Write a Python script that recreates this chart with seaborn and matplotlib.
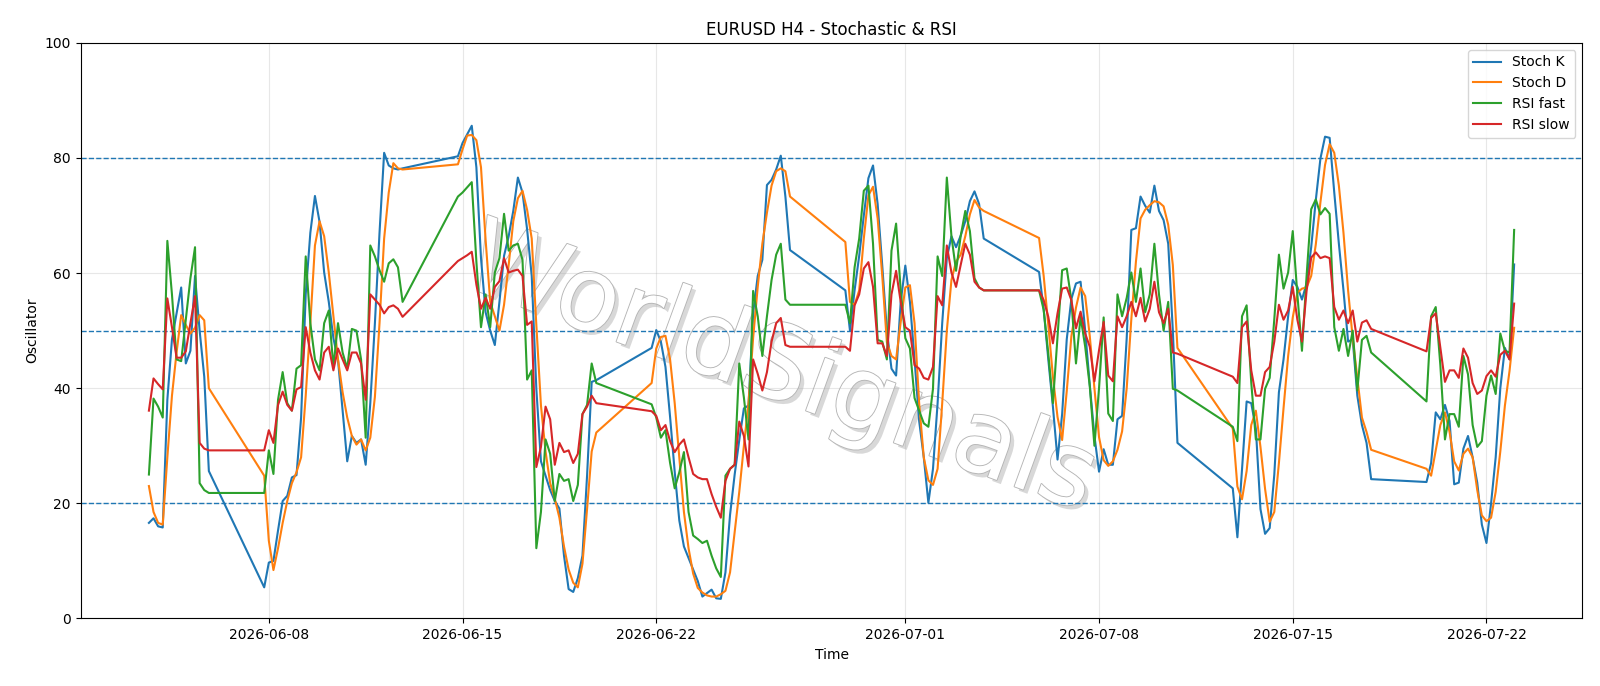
import numpy as np
import pandas as pd
import matplotlib
matplotlib.use("Agg")
import matplotlib.pyplot as plt
import matplotlib.patheffects as pe
import seaborn as sns

# H4 bars: weekdays plus the Sunday 20:00 open bar
bars = pd.date_range("2026-06-03 16:00", "2026-07-23 00:00", freq="4h")
bars = bars[(bars.dayofweek < 5) | ((bars.dayofweek == 6) & (bars.hour == 20))]

stoch_k = [
    16.6, 17.4, 16.0, 15.8, 38.0, 48.5, 53.0, 57.5, 44.3, 46.5, 59.5, 50.0, 42.0, 25.6,
    5.4, 9.7, 10.0, 15.3, 20.4, 21.3, 24.5, 24.9, 34.9, 56.3, 67.0, 73.4, 68.9, 60.1, 55.0, 48.7,
    44.9, 36.1, 27.3, 31.7, 30.5, 31.1, 26.7, 37.4, 51.3, 67.0, 80.9, 78.7, 78.2, 78.0, 78.2,
    80.3, 82.6, 84.1, 85.6, 78.4, 62.6, 53.2, 50.0, 47.5, 55.0, 63.0, 66.4, 70.8, 76.6, 74.0, 67.6,
    59.5, 39.9, 27.3, 24.8, 22.3, 20.4, 19.1, 10.9, 5.1, 4.6, 7.0, 10.9, 24.8, 41.1, 41.4,
    47.0, 50.1, 48.1, 43.7, 35.0, 25.5, 17.0, 12.5, 10.5, 8.5, 6.5, 3.8, 4.4, 5.0, 3.5, 3.4,
    8.0, 18.0, 25.0, 31.0, 36.5, 37.0, 53.0, 59.5, 62.3, 75.3, 76.2, 78.0, 80.4, 73.3, 64.0,
    57.0, 50.0, 57.0, 63.0, 70.0, 76.5, 78.7, 72.0, 61.3, 50.0, 43.4, 42.2, 55.0, 61.3, 55.0, 45.0,
    34.3, 28.0, 20.1, 26.0, 37.4, 51.3, 62.6, 66.4, 64.5, 66.5, 69.0, 72.5, 74.2, 72.0, 66.0,
    60.2, 53.7, 45.0, 36.8, 27.6, 35.5, 48.5, 55.5, 58.2, 58.5, 50.0, 40.5, 31.7, 25.5, 29.4, 26.7,
    26.7, 34.6, 35.2, 48.7, 67.5, 67.8, 73.3, 71.7, 70.5, 75.2, 70.8, 69.2, 65.1, 50.0, 30.5,
    22.6, 14.1, 26.0, 37.7, 37.4, 33.0, 19.0, 14.7, 15.7, 25.0, 39.3, 45.0, 52.5, 58.8, 57.6, 55.4,
    58.2, 64.5, 72.7, 79.9, 83.7, 83.5, 74.0, 65.1, 57.0, 48.1, 48.5, 38.7, 33.6, 30.5, 24.2,
    23.7, 27.0, 35.8, 34.6, 37.1, 34.3, 23.3, 23.6, 29.5, 31.7, 28.0, 23.6, 16.3, 13.1, 20.0, 28.0,
    40.0, 47.0, 45.0, 61.5,
]

stoch_d = [
    23.0, 18.5, 16.6, 16.3, 28.0, 38.7, 46.2, 52.7, 51.0, 49.5, 50.5, 52.7, 51.8, 40.0,
    24.8, 13.5, 8.4, 12.2, 16.6, 20.4, 23.5, 25.4, 28.0, 38.7, 51.3, 64.8, 69.0, 66.4, 60.1, 52.5,
    45.0, 39.3, 34.9, 31.7, 30.2, 31.1, 29.2, 31.4, 38.5, 51.3, 66.0, 74.0, 79.1, 78.2, 78.0,
    78.9, 81.5, 83.9, 84.0, 83.1, 78.4, 65.8, 55.0, 52.5, 50.0, 54.5, 61.4, 69.0, 73.0, 74.3, 71.0,
    66.0, 51.0, 37.0, 29.0, 23.5, 20.8, 17.5, 12.5, 8.5, 6.2, 5.4, 9.5, 19.0, 29.0, 32.3,
    40.9, 46.9, 48.9, 49.1, 45.0, 37.4, 28.0, 18.5, 12.2, 7.8, 5.3, 4.5, 4.0, 3.8, 3.8, 4.2,
    4.8, 8.0, 15.0, 22.0, 30.0, 37.4, 48.7, 57.6, 65.1, 70.5, 75.2, 77.7, 78.2, 77.7, 73.3,
    65.4, 55.0, 54.5, 57.0, 66.0, 73.5, 75.0, 69.5, 59.5, 48.0, 45.6, 45.0, 51.5, 57.5, 57.9, 51.3,
    37.4, 28.0, 24.0, 23.2, 26.0, 37.4, 50.0, 58.8, 62.0, 63.2, 66.4, 70.2, 72.7, 71.4, 70.8,
    66.1, 59.5, 51.0, 42.0, 35.0, 31.0, 39.5, 49.0, 54.0, 57.5, 56.0, 49.0, 40.0, 31.5, 27.5, 26.5,
    27.3, 29.3, 32.5, 40.0, 52.0, 62.0, 69.5, 71.0, 71.8, 72.5, 72.3, 71.6, 68.4, 61.4, 47.0,
    33.0, 22.9, 20.7, 25.6, 33.6, 36.1, 29.8, 22.5, 16.8, 18.5, 27.0, 36.5, 45.6, 52.3, 56.6, 57.3,
    57.5, 59.5, 65.0, 72.3, 78.8, 82.4, 80.9, 75.2, 67.0, 57.0, 48.7, 41.8, 34.9, 32.4, 29.3,
    26.0, 24.8, 29.2, 33.6, 35.8, 32.4, 27.3, 25.7, 28.6, 29.5, 28.0, 22.3, 17.9, 16.9, 17.5, 22.0,
    29.0, 37.0, 43.0, 50.5,
]

rsi_fast = [
    25.0, 38.2, 36.8, 34.9, 65.6, 56.3, 45.0, 44.7, 51.9, 59.1, 64.5, 23.5, 22.3, 21.8,
    21.8, 29.2, 25.1, 38.0, 42.8, 37.4, 36.1, 43.4, 44.0, 62.9, 51.3, 45.0, 43.1, 51.3, 53.5, 43.7,
    51.3, 46.2, 43.4, 50.3, 50.0, 45.0, 31.4, 64.8, 62.9, 60.5, 58.5, 61.7, 62.4, 61.0, 55.0,
    73.3, 74.0, 74.9, 75.8, 62.0, 50.6, 56.3, 50.6, 60.1, 62.6, 70.3, 63.9, 64.8, 65.1, 62.3, 41.5,
    43.1, 12.2, 18.5, 31.1, 28.6, 20.4, 25.1, 23.9, 24.2, 20.4, 23.2, 35.5, 37.1, 44.3, 40.9,
    37.2, 34.9, 31.4, 32.7, 27.0, 22.6, 25.4, 28.9, 18.5, 14.4, 13.8, 13.1, 13.5, 10.9, 8.7, 7.2,
    24.8, 26.0, 26.7, 44.3, 38.4, 31.1, 56.9, 52.5, 45.6, 52.5, 58.8, 63.2, 65.1, 55.4, 54.5,
    54.5, 51.3, 61.0, 66.0, 74.3, 75.2, 65.1, 48.4, 48.1, 45.0, 63.9, 68.6, 57.0, 48.7, 46.9, 38.3,
    36.1, 33.9, 33.3, 39.9, 62.9, 59.5, 76.6, 66.4, 60.4, 66.4, 70.8, 67.3, 59.1, 57.5, 57.0,
    57.0, 53.6, 46.0, 37.4, 49.0, 60.5, 60.8, 55.3, 44.3, 52.4, 47.2, 40.3, 30.0, 40.0, 52.3, 35.6,
    34.3, 56.3, 52.5, 55.7, 60.1, 55.0, 60.8, 53.2, 56.3, 65.1, 56.3, 50.0, 55.0, 39.9, 39.6,
    33.3, 30.8, 52.5, 54.4, 41.0, 31.1, 31.1, 39.9, 41.8, 52.0, 63.2, 57.3, 60.1, 67.3, 56.3, 46.5,
    59.5, 71.1, 72.8, 70.2, 71.3, 70.3, 50.6, 46.5, 50.3, 45.6, 50.0, 39.6, 48.4, 49.1, 46.2,
    37.7, 52.5, 54.1, 44.0, 31.1, 35.5, 35.5, 33.3, 45.6, 42.4, 33.6, 29.8, 30.8, 38.7, 42.2, 39.0,
    49.5, 46.5, 46.2, 67.5,
]

rsi_slow = [
    36.1, 41.7, 40.7, 39.8, 55.6, 50.6, 45.3, 45.3, 46.4, 51.3, 56.0, 30.5, 29.5, 29.2,
    29.2, 32.7, 30.5, 37.1, 39.4, 37.1, 36.1, 39.8, 40.2, 50.6, 46.2, 43.1, 41.5, 46.2, 47.2, 43.1,
    46.9, 45.0, 43.1, 46.2, 46.2, 44.3, 38.0, 56.3, 55.4, 54.5, 53.0, 54.1, 54.4, 53.8, 52.4,
    62.1, 62.6, 63.1, 63.7, 58.0, 53.8, 55.7, 53.8, 57.6, 58.6, 62.6, 60.1, 60.4, 60.6, 59.5, 51.0,
    51.6, 26.3, 29.8, 36.8, 34.6, 26.7, 30.5, 28.9, 29.2, 27.0, 28.6, 35.5, 36.8, 38.7, 37.4,
    36.0, 35.2, 32.7, 33.6, 30.8, 28.9, 30.2, 31.1, 28.0, 25.1, 24.5, 24.2, 24.2, 21.6, 19.4, 17.5,
    23.9, 26.0, 26.7, 34.2, 31.7, 26.4, 45.0, 42.5, 39.6, 42.8, 48.1, 51.3, 52.2, 47.5, 47.2,
    47.2, 46.5, 54.4, 56.3, 60.8, 61.9, 57.6, 47.8, 47.8, 45.6, 56.3, 60.4, 55.0, 50.6, 50.0, 44.0,
    43.4, 41.8, 41.5, 43.7, 56.0, 54.4, 64.8, 60.1, 57.6, 61.4, 65.1, 63.2, 58.5, 57.5, 57.0,
    57.0, 55.3, 52.4, 47.8, 53.0, 57.3, 57.5, 55.3, 50.4, 53.3, 49.5, 47.2, 41.2, 46.6, 51.5, 42.2,
    41.2, 52.5, 50.6, 52.5, 55.0, 52.5, 55.7, 51.6, 53.8, 58.5, 53.2, 51.3, 53.8, 46.2, 46.0,
    42.0, 40.9, 50.6, 51.6, 43.1, 38.7, 38.7, 42.8, 43.7, 48.1, 54.5, 51.9, 53.5, 57.6, 51.9, 48.1,
    56.9, 62.7, 63.6, 62.6, 62.9, 62.6, 54.1, 51.9, 53.5, 51.3, 53.5, 48.1, 51.4, 51.8, 50.3,
    46.4, 52.2, 53.0, 47.0, 41.1, 43.1, 43.1, 41.8, 46.9, 45.3, 40.9, 39.0, 39.6, 42.1, 43.1, 42.0,
    45.8, 46.5, 45.0, 54.7,
]

levels = [80, 50, 20]

df = pd.DataFrame({
    "time": bars,
    "Stoch K": stoch_k,
    "Stoch D": stoch_d,
    "RSI fast": rsi_fast,
    "RSI slow": rsi_slow,
})

fig, ax = plt.subplots(figsize=(16, 6.86), dpi=100)
fig.subplots_adjust(left=0.0504, right=0.989, top=0.9375, bottom=0.0985)

colors = sns.color_palette("tab10", 4)
for name, c in zip(["Stoch K", "Stoch D", "RSI fast", "RSI slow"], colors):
    sns.lineplot(data=df, x="time", y=name, ax=ax, color=c, label=name, linewidth=1.5, zorder=3)

for lv in levels:
    ax.axhline(lv, color=colors[0], linestyle="--", linewidth=1, zorder=2)

ax.set_ylim(0, 100)
ax.grid(True, alpha=0.3)
ax.set_title("EURUSD H4 - Stochastic & RSI")
ax.set_xlabel("Time")
ax.set_ylabel("Oscillator")
ax.legend(loc="upper right")

# watermark, sits under the lines
ax.text(0.466, 0.43, "WorldSignals", transform=ax.transAxes, fontsize=74, rotation=-20,
        ha="center", va="center", color="white", zorder=1,
        path_effects=[pe.withSimplePatchShadow(offset=(3, -3), shadow_rgbFace="gray", alpha=0.3),
                      pe.withStroke(linewidth=1.3, foreground="#b5b5b5")])

fig.savefig("out.png", dpi=100)
